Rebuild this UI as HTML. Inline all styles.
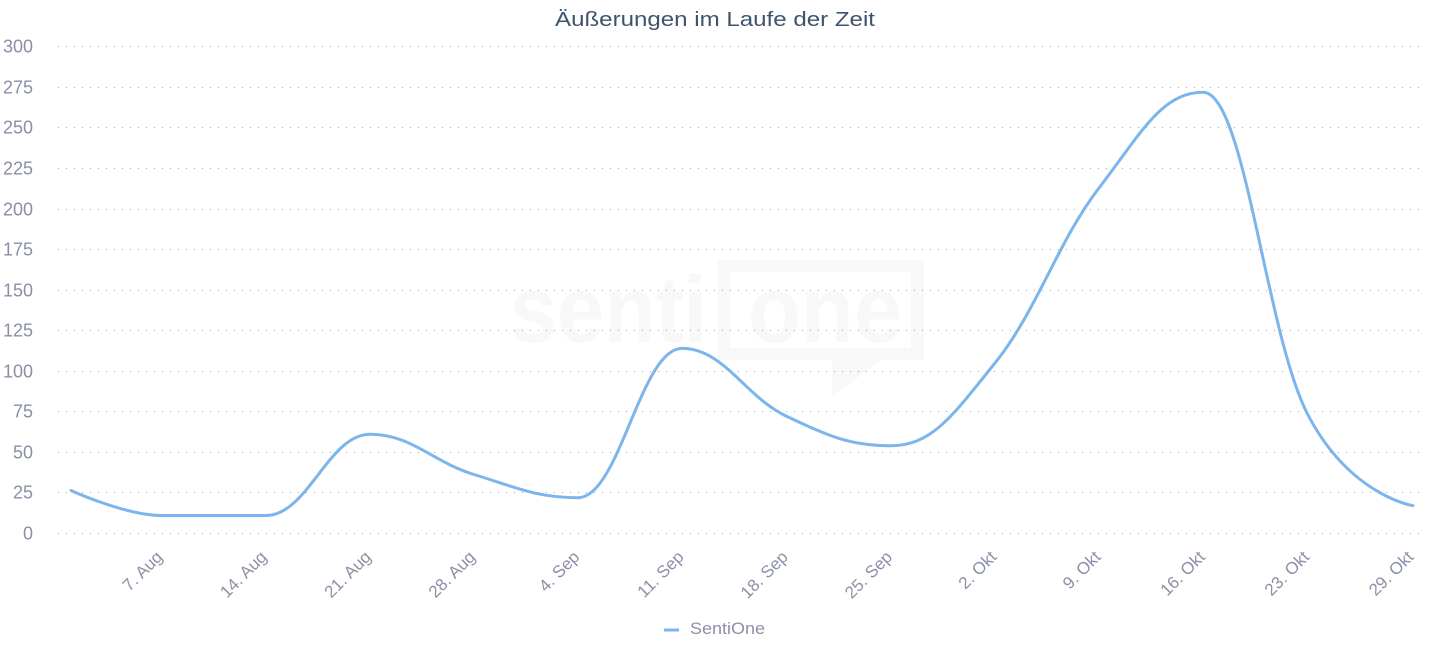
<!DOCTYPE html>
<html>
<head>
<meta charset="utf-8">
<style>
  html, body { margin: 0; padding: 0; background: #ffffff; }
  svg { display: block; }
  text { font-family: "Liberation Sans", "DejaVu Sans", sans-serif; }
</style>
</head>
<body>
<svg width="1430" height="657" viewBox="0 0 1430 657" xmlns="http://www.w3.org/2000/svg">
  <rect x="0" y="0" width="1430" height="657" fill="#ffffff"/>

  <!-- watermark -->
  <g fill="#f8f8f8">
    <path fill-rule="evenodd" d="M718,260 H924 V360 H880 L832,397 V360 H718 Z M730,272 V348 H911 V272 Z"/>
    <text x="510" y="342" font-size="95" font-weight="bold" textLength="197" lengthAdjust="spacingAndGlyphs">senti</text>
    <text x="748" y="342" font-size="95" font-weight="bold" textLength="154" lengthAdjust="spacingAndGlyphs">one</text>
  </g>

  <!-- title -->
  <text x="715" y="26" font-size="20" fill="#3e546d" text-anchor="middle" textLength="320" lengthAdjust="spacingAndGlyphs">Äußerungen im Laufe der Zeit</text>

  <!-- gridlines -->
  <g stroke="#a3a3a3" stroke-width="1" stroke-dasharray="1,7" fill="none">
    <line x1="58" y1="46.5" x2="1426" y2="46.5"/>
    <line x1="58" y1="87.5" x2="1426" y2="87.5"/>
    <line x1="58" y1="127.5" x2="1426" y2="127.5"/>
    <line x1="58" y1="168.5" x2="1426" y2="168.5"/>
    <line x1="58" y1="209.5" x2="1426" y2="209.5"/>
    <line x1="58" y1="249.5" x2="1426" y2="249.5"/>
    <line x1="58" y1="290.5" x2="1426" y2="290.5"/>
    <line x1="58" y1="330.5" x2="1426" y2="330.5"/>
    <line x1="58" y1="371.5" x2="1426" y2="371.5"/>
    <line x1="58" y1="411.5" x2="1426" y2="411.5"/>
    <line x1="58" y1="452.5" x2="1426" y2="452.5"/>
    <line x1="58" y1="492.5" x2="1426" y2="492.5"/>
    <line x1="58" y1="533.5" x2="1426" y2="533.5"/>
  </g>

  <!-- y axis labels -->
  <g font-size="18" fill="#8a8fa6" text-anchor="end">
    <text x="33" y="52.5">300</text>
    <text x="33" y="93.5">275</text>
    <text x="33" y="133.5">250</text>
    <text x="33" y="174.5">225</text>
    <text x="33" y="215.5">200</text>
    <text x="33" y="255.5">175</text>
    <text x="33" y="296.5">150</text>
    <text x="33" y="336.5">125</text>
    <text x="33" y="377.5">100</text>
    <text x="33" y="417.5">75</text>
    <text x="33" y="458.5">50</text>
    <text x="33" y="498.5">25</text>
    <text x="33" y="539.5">0</text>
  </g>

  <!-- x axis labels -->
  <g font-size="17" fill="#8c90a8" text-anchor="end">
    <text transform="translate(163.5,558) rotate(-45)">7. Aug</text>
    <text transform="translate(267.75,558) rotate(-45)">14. Aug</text>
    <text transform="translate(372,558) rotate(-45)">21. Aug</text>
    <text transform="translate(476.25,558) rotate(-45)">28. Aug</text>
    <text transform="translate(580.5,558) rotate(-45)">4. Sep</text>
    <text transform="translate(684.75,558) rotate(-45)">11. Sep</text>
    <text transform="translate(789,558) rotate(-45)">18. Sep</text>
    <text transform="translate(893.25,558) rotate(-45)">25. Sep</text>
    <text transform="translate(997.5,558) rotate(-45)">2. Okt</text>
    <text transform="translate(1101.75,558) rotate(-45)">9. Okt</text>
    <text transform="translate(1206,558) rotate(-45)">16. Okt</text>
    <text transform="translate(1310.25,558) rotate(-45)">23. Okt</text>
    <text transform="translate(1414.5,558) rotate(-45)">29. Okt</text>
  </g>

  <!-- series -->
  <path fill="none" stroke="#7cb5ec" stroke-width="3" stroke-linejoin="round" stroke-linecap="round"
    d="M 71 490.5
       C 71 490.5, 125.6 515.5, 162 515.5
       C 203.6 515.5, 224.4 515.5, 266 515.5
       C 307.6 515.5, 328.4 434.3, 370 434.3
       C 411.6 434.3, 432.4 461.8, 474 474.5
       C 515.6 487.2, 536.4 497.7, 578 497.7
       C 619.6 497.7, 640.4 348.4, 682 348.4
       C 724 348.4, 745 397.0, 787 416.5
       C 828.6 436.0, 849.4 445.7, 891 445.7
       C 932.6 445.7, 953.4 414.5, 995 363
       C 1036.6 311.5, 1057.4 242.1, 1099 188
       C 1140.6 133.9, 1161.4 92.3, 1203 92.3
       C 1244.6 92.3, 1265.4 330.3, 1307 413
       C 1349.4 495.7, 1413 505.7, 1413 505.7"/>

  <!-- legend -->
  <line x1="664" y1="630" x2="679" y2="630" stroke="#7cb5ec" stroke-width="3"/>
  <text x="690" y="634" font-size="17" fill="#8c90a8" textLength="75" lengthAdjust="spacingAndGlyphs">SentiOne</text>
</svg>
</body>
</html>
